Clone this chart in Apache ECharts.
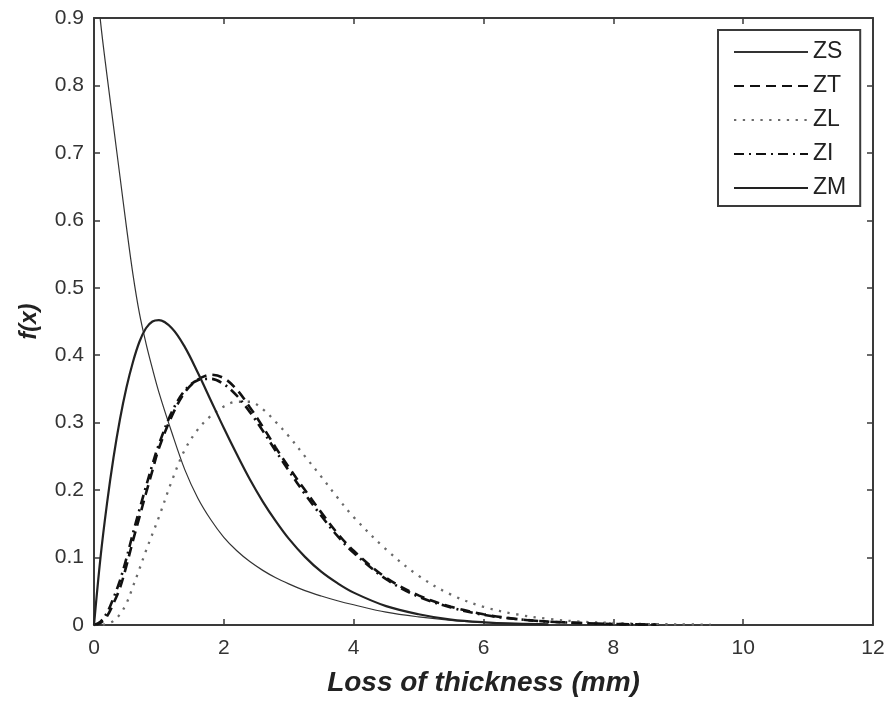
<!DOCTYPE html>
<html>
<head>
<meta charset="utf-8">
<script src="https://cdn.jsdelivr.net/npm/echarts@6/dist/echarts.min.js"></script>
<style>
html,body{margin:0;padding:0;background:#fff;}
#chart{width:888px;height:702px;}
</style>
</head>
<body>
<div id="chart"></div>
<script>
// x positions (Loss of thickness, mm)
const xs   = [0, 0.1, 0.2, 0.3, 0.4, 0.5, 0.6, 0.7, 0.8, 0.9, 1.0, 1.2, 1.4, 1.6, 1.8, 2.0, 2.2, 2.4, 2.6, 2.8, 3.0, 3.25, 3.5, 3.75, 4.0, 4.5, 5.0, 5.5, 6.0, 6.5, 7.0, 7.5, 8.0, 8.5, 8.7, 9.0, 9.5];
// f(x) values per distribution
const zsVals = [1.0, 0.895, 0.815, 0.74, 0.665, 0.59, 0.52, 0.462, 0.418, 0.38, 0.345, 0.285, 0.23, 0.188, 0.156, 0.13, 0.11, 0.094, 0.081, 0.07, 0.061, 0.051, 0.043, 0.036, 0.03, 0.019, 0.012, 0.007, 0.004, 0.002, 0.001, null, null, null, null, null, null];
const ztVals = [0, 0.003, 0.013, 0.032, 0.055, 0.088, 0.125, 0.16, 0.195, 0.229, 0.262, 0.31, 0.345, 0.364, 0.371, 0.366, 0.349, 0.323, 0.294, 0.263, 0.234, 0.2, 0.167, 0.136, 0.11, 0.07, 0.044, 0.027, 0.016, 0.009, 0.005, 0.003, 0.0015, 0.0008, 0.0005, null, null];
const zlVals = [0, 0, 0.002, 0.006, 0.016, 0.032, 0.057, 0.083, 0.11, 0.135, 0.16, 0.214, 0.26, 0.29, 0.31, 0.324, 0.331, 0.331, 0.32, 0.301, 0.28, 0.25, 0.22, 0.189, 0.16, 0.112, 0.073, 0.045, 0.027, 0.016, 0.009, 0.005, 0.003, 0.0015, 0.0012, 0.001, 0.0005];
const ziVals = [0, 0.005, 0.018, 0.04, 0.066, 0.099, 0.136, 0.171, 0.205, 0.238, 0.268, 0.316, 0.348, 0.363, 0.365, 0.357, 0.34, 0.316, 0.288, 0.258, 0.229, 0.194, 0.162, 0.132, 0.107, 0.068, 0.042, 0.026, 0.015, 0.009, 0.005, 0.003, 0.0015, 0.0008, 0.0005, null, null];
const zmVals = [0, 0.1, 0.18, 0.248, 0.305, 0.352, 0.39, 0.42, 0.44, 0.45, 0.452, 0.44, 0.412, 0.374, 0.333, 0.292, 0.253, 0.216, 0.183, 0.154, 0.128, 0.101, 0.079, 0.062, 0.048, 0.028, 0.016, 0.008, 0.004, 0.002, 0.001, null, null, null, null, null, null];
const seriesNames = ['ZS', 'ZT', 'ZL', 'ZI', 'ZM'];
const xTicks = [0, 2, 4, 6, 8, 10, 12];
const yTicks = [0, 0.1, 0.2, 0.3, 0.4, 0.5, 0.6, 0.7, 0.8, 0.9];

const pairs = v => xs.map((x, i) => [x, v[i]]);
const FONT = '"Liberation Sans", Arial, sans-serif';
const AX = '#3a3a3a';

const styles = {
  ZS: {color: '#333', width: 1.2, type: 'solid'},
  ZT: {color: '#111', width: 2.6, type: [10, 6]},
  ZL: {color: '#6a6a6a', width: 2.3, type: [2.3, 6.5]},
  ZI: {color: '#111', width: 2.6, type: [10, 5, 2, 5]},
  ZM: {color: '#222', width: 2.2, type: 'solid'}
};
const valsByName = {ZS: zsVals, ZT: ztVals, ZL: zlVals, ZI: ziVals, ZM: zmVals};

const axisCommonX = {
  type: 'value', min: xTicks[0], max: xTicks[xTicks.length - 1], interval: 2,
  axisLine: {show: true, onZero: false, lineStyle: {color: AX, width: 2}},
  axisTick: {show: true, inside: true, length: 6, lineStyle: {color: AX, width: 1.5}},
  splitLine: {show: false}
};
const axisCommonY = {
  type: 'value', min: yTicks[0], max: yTicks[yTicks.length - 1], interval: 0.1,
  axisLine: {show: true, onZero: false, lineStyle: {color: AX, width: 2}},
  axisTick: {show: true, inside: true, length: 6, lineStyle: {color: AX, width: 1.5}},
  splitLine: {show: false}
};

const chart = echarts.init(document.getElementById('chart'), null, {renderer: 'canvas'});
chart.setOption({
  animation: false,
  backgroundColor: '#fff',
  grid: {left: 94, right: 15, top: 18, bottom: 70, containLabel: false},
  legend: {
    orient: 'vertical', left: 718, top: 30,
    padding: [10, 14, 6, 15],
    itemWidth: 74, itemHeight: 14, itemGap: 10,
    backgroundColor: '#fff', borderColor: AX, borderWidth: 2,
    itemStyle: {opacity: 0, borderWidth: 0},
    textStyle: {fontFamily: FONT, fontSize: 23, lineHeight: 24, color: '#222'},
    data: seriesNames
  },
  xAxis: [
    Object.assign({}, axisCommonX, {
      position: 'bottom',
      name: 'Loss of thickness (mm)', nameLocation: 'middle', nameGap: 44,
      nameTextStyle: {fontFamily: FONT, fontSize: 28, fontWeight: 'bold', fontStyle: 'italic', color: '#222'},
      axisLabel: {show: true, margin: 13, fontFamily: FONT, fontSize: 21, color: '#333'}
    }),
    Object.assign({}, axisCommonX, {position: 'top', axisLabel: {show: false}})
  ],
  yAxis: [
    Object.assign({}, axisCommonY, {
      position: 'left',
      name: 'f(x)', nameLocation: 'middle', nameGap: 53,
      nameTextStyle: {fontFamily: FONT, fontSize: 23, fontWeight: 'bold', fontStyle: 'italic', color: '#222'},
      axisLabel: {show: true, margin: 10, fontFamily: FONT, fontSize: 21, color: '#333'}
    }),
    Object.assign({}, axisCommonY, {position: 'right', axisLabel: {show: false}})
  ],
  series: seriesNames.map(n => ({
    name: n, type: 'line', xAxisIndex: 0, yAxisIndex: 0,
    data: pairs(valsByName[n]),
    showSymbol: false, symbol: 'none', smooth: 0.35, clip: true,
    connectNulls: false,
    color: styles[n].color,
    lineStyle: {color: styles[n].color, width: styles[n].width, type: styles[n].type}
  }))
});
</script>
</body>
</html>
